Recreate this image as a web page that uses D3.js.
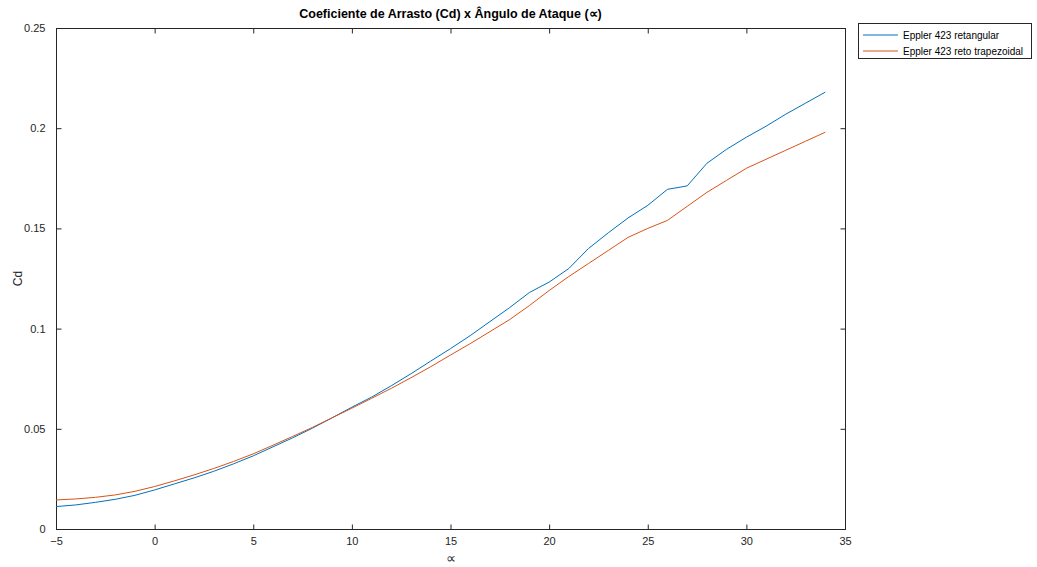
<!DOCTYPE html>
<html><head><meta charset="utf-8">
<script src="https://cdn.jsdelivr.net/npm/d3@7"></script>
<style>body{margin:0;background:#fff;} svg{display:block;font-family:"Liberation Sans",Arial,sans-serif;}</style>
</head><body>
<script>
const alpha = [-5,-4,-3,-2,-1,0,1,2,3,4,5,6,7,8,9,10,11,12,13,14,15,16,17,18,19,20,21,22,23,24,25,26,27,28,29,30,31,32,33,34];
const cdRetangular = [0.0112,0.0120,0.0133,0.0148,0.0168,0.0195,0.0225,0.0255,0.0288,0.0325,0.0365,0.0410,0.0455,0.0503,0.0555,0.0608,0.0658,0.0715,0.0775,0.0838,0.0900,0.0965,0.1035,0.1105,0.1180,0.1232,0.1300,0.1400,0.1478,0.1552,0.1615,0.1695,0.1712,0.1825,0.1895,0.1955,0.2010,0.2070,0.2125,0.2180];
const cdTrapezoidal = [0.0145,0.0150,0.0158,0.0170,0.0188,0.0212,0.0240,0.0270,0.0302,0.0337,0.0375,0.0418,0.0462,0.0507,0.0555,0.0603,0.0652,0.0702,0.0755,0.0810,0.0868,0.0925,0.0985,0.1045,0.1115,0.1190,0.1260,0.1325,0.1390,0.1455,0.1500,0.1540,0.1610,0.1680,0.1740,0.1800,0.1845,0.1890,0.1935,0.1980];
const seriesNames = ["Eppler 423 retangular","Eppler 423 reto trapezoidal"];
const seriesColors = ["#0072BD","#D95319"];
const xTicks = [-5,0,5,10,15,20,25,30,35];
const yTicks = [0,0.05,0.1,0.15,0.2,0.25];
const yTickLabels = ["0","0.05","0.1","0.15","0.2","0.25"];
const titleText = "Coeficiente de Arrasto (Cd) x Ângulo de Ataque (\u221D)";
const xLabel = "\u221D";
const yLabel = "Cd";

const W=1037,H=567;
const L=56,R=845,T=28,B=529;
const svg=d3.select("body").append("svg").attr("width",W).attr("height",H);
const x=d3.scaleLinear().domain([-5,35]).range([L,R]);
const y=d3.scaleLinear().domain([0,0.25]).range([B,T]);
const axCol="#262626";
const tl=5;

// box
svg.append("rect").attr("x",L+0.5).attr("y",T+0.5).attr("width",R-L).attr("height",B-T)
  .attr("fill","none").attr("stroke",axCol).attr("stroke-width",1);

// axes (ticks inward)
const xb=svg.append("g").attr("transform",`translate(0,${B+0.5})`)
  .call(d3.axisBottom(x).tickValues(xTicks).tickSize(-tl).tickPadding(tl+3).tickFormat(d3.format("d")));
const xt=svg.append("g").attr("transform",`translate(0,${T+0.5})`)
  .call(d3.axisTop(x).tickValues(xTicks).tickSize(-tl).tickFormat(""));
const yl=svg.append("g").attr("transform",`translate(${L+0.5},0)`)
  .call(d3.axisLeft(y).tickValues(yTicks).tickSize(-tl).tickPadding(tl+6).tickFormat((d,i)=>yTickLabels[i]));
const yr=svg.append("g").attr("transform",`translate(${R+0.5},0)`)
  .call(d3.axisRight(y).tickValues(yTicks).tickSize(-tl).tickFormat(""));
[xb,xt,yl,yr].forEach(g=>{
  g.select(".domain").remove();
  g.selectAll(".tick line").attr("stroke",axCol);
  g.selectAll(".tick text").attr("fill",axCol).style("font-size","11px").style("font-family","'Liberation Sans',Arial,sans-serif");
});

// lines
const series=[cdRetangular,cdTrapezoidal];
const line=d3.line().x((d,i)=>x(alpha[i])).y(d=>y(d));
series.forEach((s,k)=>{
  svg.append("path").datum(s).attr("d",line).attr("fill","none")
    .attr("stroke",seriesColors[k]).attr("stroke-width",1);
});

// title and labels
svg.append("text").attr("x",(L+R)/2).attr("y",18).attr("text-anchor","middle")
  .style("font-size","12.5px").style("font-weight","bold").attr("fill","#000").text(titleText);
svg.append("text").attr("x",(L+R)/2).attr("y",563).attr("text-anchor","middle")
  .style("font-size","14px").attr("fill",axCol).text(xLabel);
svg.append("text").attr("transform",`translate(22,${(T+B)/2}) rotate(-90)`).attr("text-anchor","middle")
  .style("font-size","12px").attr("fill",axCol).text(yLabel);

// legend
const lg=svg.append("g");
lg.append("rect").attr("x",858.5).attr("y",23.5).attr("width",173).attr("height",35)
  .attr("fill","#fff").attr("stroke",axCol).attr("stroke-width",1);
seriesNames.forEach((n,k)=>{
  const yy=35+k*16;
  lg.append("line").attr("x1",863).attr("x2",898).attr("y1",yy).attr("y2",yy)
    .attr("stroke",seriesColors[k]).attr("stroke-width",1);
  lg.append("text").attr("x",903).attr("y",yy+3.5).style("font-size","10px").attr("fill","#000").text(n);
});
</script>
</body></html>
